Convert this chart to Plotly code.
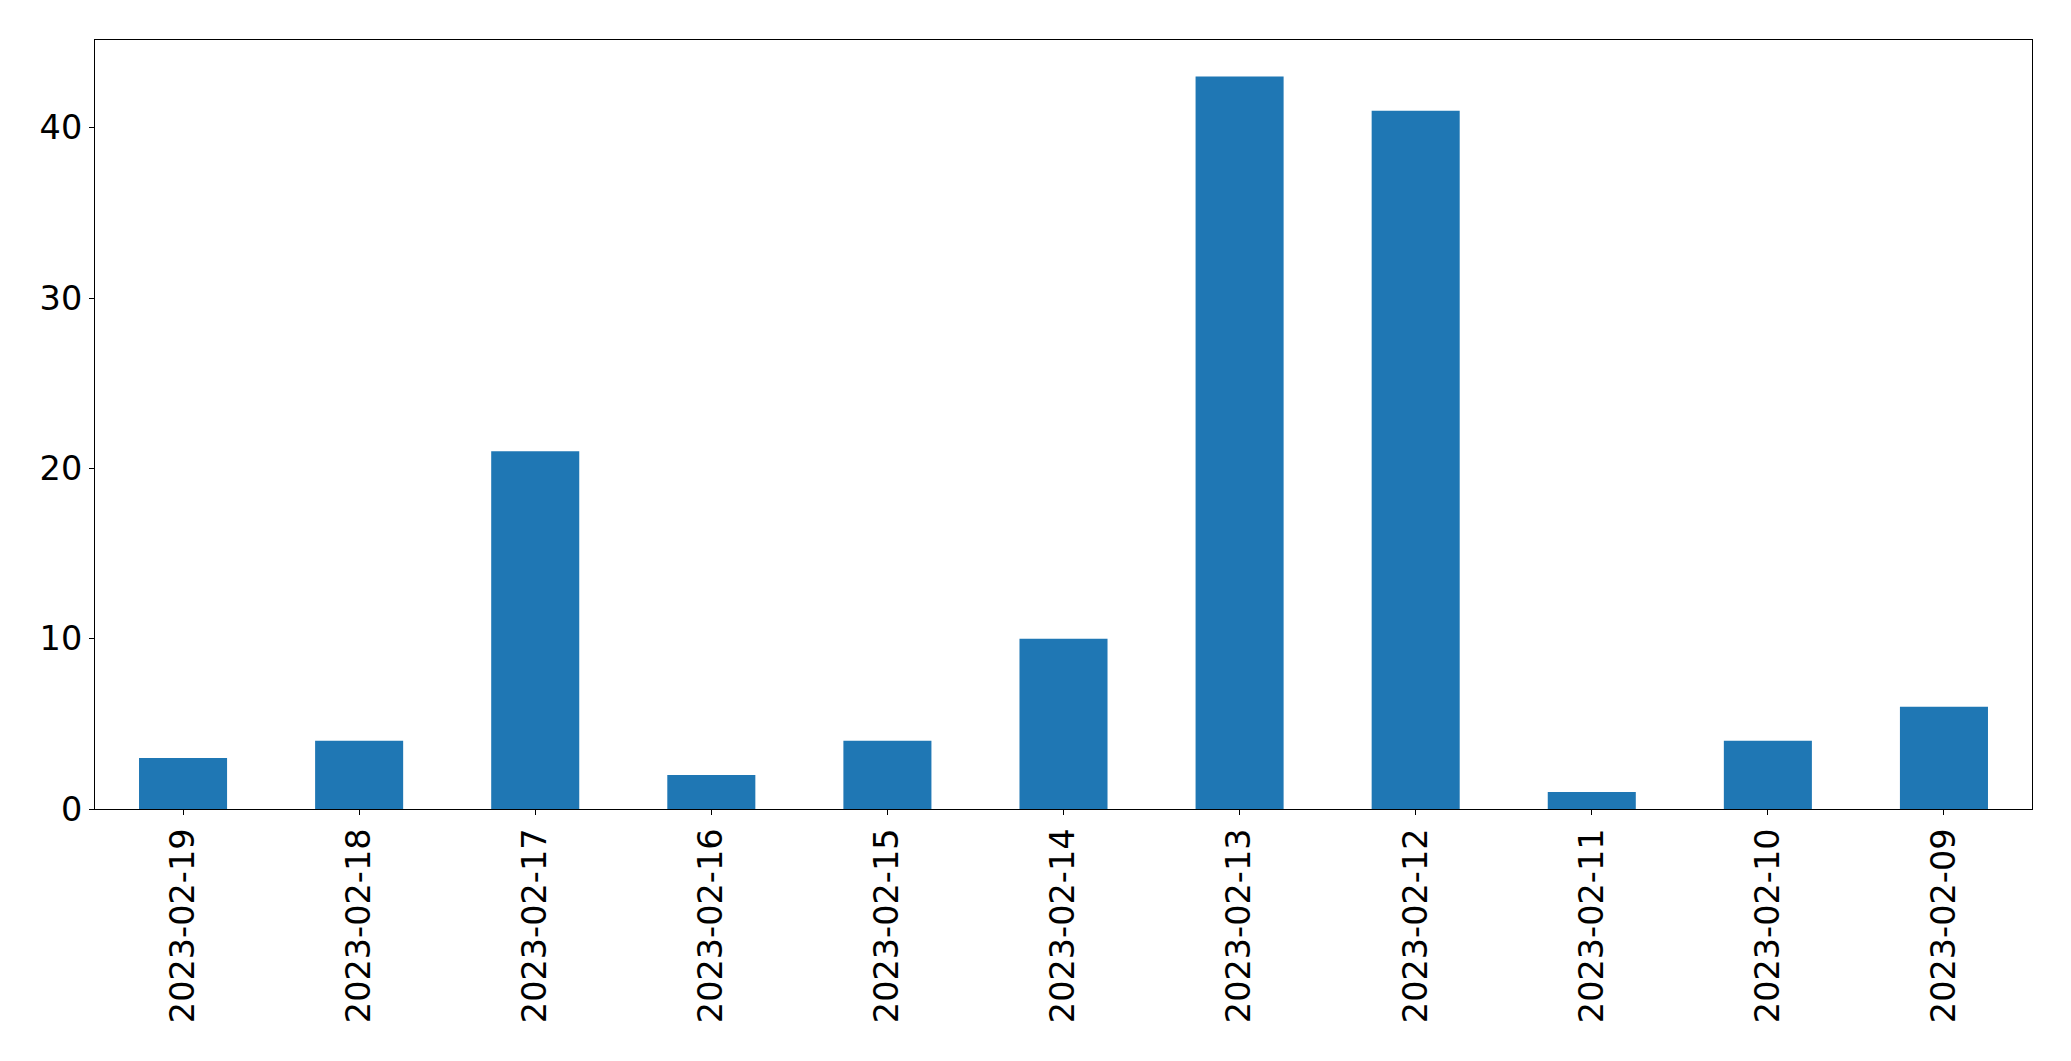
import plotly.graph_objects as go

dates = ["2023-02-19", "2023-02-18", "2023-02-17", "2023-02-16", "2023-02-15",
         "2023-02-14", "2023-02-13", "2023-02-12", "2023-02-11", "2023-02-10", "2023-02-09"]
counts = [3, 4, 21, 2, 4, 10, 43, 41, 1, 4, 6]

fig = go.Figure(go.Bar(x=dates, y=counts, width=0.5, marker=dict(color="#1f77b4", line=dict(width=0))))

axis_common = dict(showline=True, linecolor="black", linewidth=1.1, mirror=True,
                   ticks="outside", ticklen=5, tickwidth=1.1, tickcolor="black",
                   showgrid=False, zeroline=False,
                   tickfont=dict(family="DejaVu Sans", size=33.5, color="black"))

fig.update_layout(
    width=2063, height=1053,
    margin=dict(l=87, r=39, t=32, b=252, autoexpand=False),
    plot_bgcolor="white", paper_bgcolor="white",
    showlegend=False,
    xaxis=dict(type="category", range=[-0.5, 10.5], tickangle=-90, **axis_common),
    yaxis=dict(range=[0, 45.15], tickvals=[0, 10, 20, 30, 40], **axis_common),
)

fig.write_html("out.html")
